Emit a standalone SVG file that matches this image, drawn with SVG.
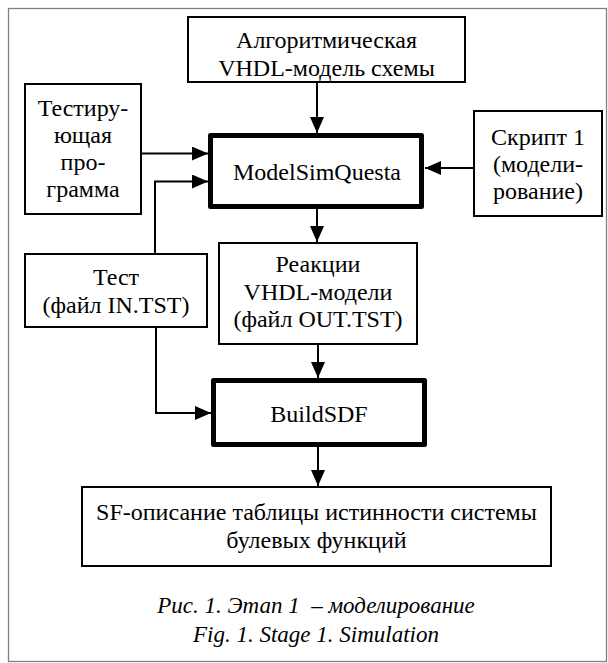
<svg xmlns="http://www.w3.org/2000/svg" width="608" height="663" viewBox="0 0 608 663">
<style>
.box{fill:#fff;stroke:#000;stroke-width:2}
.thick{fill:#fff;stroke:#000;stroke-width:5;stroke-linejoin:round}
text{font-family:'Liberation Serif','Times New Roman',serif;fill:#000;text-anchor:middle}
.t{font-size:24px}
.cap{font-size:23px;font-style:italic;white-space:pre}
.ln{fill:none;stroke:#000;stroke-width:2}
</style>
<defs>
<marker id="ah" viewBox="0 0 16 14" refX="16" refY="7" markerWidth="16" markerHeight="14" markerUnits="userSpaceOnUse" orient="auto">
<path d="M0,0 L16,7 L0,14 Z" fill="#000"/>
</marker>
</defs>
<rect x="8.5" y="8.5" width="598" height="653" fill="#fff" stroke="#808080" stroke-width="1.3"/>
<g id="connectors">
<path class="ln" d="M317,83 V133" marker-end="url(#ah)"/>
<path class="ln" d="M142,153.5 H208" marker-end="url(#ah)"/>
<path class="ln" d="M155,253 V181.5 H208" marker-end="url(#ah)"/>
<path class="ln" d="M473,168 H425" marker-end="url(#ah)"/>
<path class="ln" d="M317,209 V242" marker-end="url(#ah)"/>
<path class="ln" d="M318,345 V378" marker-end="url(#ah)"/>
<path class="ln" d="M156,328 V413 H211" marker-end="url(#ah)"/>
<path class="ln" d="M318,447 V486" marker-end="url(#ah)"/>
</g>
<g id="vhdl-model">
<rect class="box" x="188" y="17" width="277" height="65"/>
<text class="t" x="326.5" y="48">Алгоритмическая</text>
<text class="t" x="326.5" y="76">VHDL-модель схемы</text>
</g>
<g id="test-program">
<rect class="box" x="25" y="84" width="116" height="130"/>
<text class="t" x="83" y="116">Тестиру-</text>
<text class="t" x="83" y="143">ющая</text>
<text class="t" x="83" y="170">про-</text>
<text class="t" x="83" y="197">грамма</text>
</g>
<g id="modelsim">
<rect class="thick" x="210.5" y="135.5" width="211" height="71"/>
<text class="t" x="317" y="180">ModelSimQuesta</text>
</g>
<g id="script1">
<rect class="box" x="474" y="111" width="128" height="105"/>
<text class="t" x="538" y="145">Скрипт 1</text>
<text class="t" x="538" y="172">(модели-</text>
<text class="t" x="538" y="199">рование)</text>
</g>
<g id="test-file">
<rect class="box" x="25" y="254" width="182" height="73"/>
<text class="t" x="116" y="285">Тест</text>
<text class="t" x="116" y="313">(файл IN.TST)</text>
</g>
<g id="reactions">
<rect class="box" x="219" y="243" width="198" height="101"/>
<text class="t" x="318" y="272">Реакции</text>
<text class="t" x="318" y="300">VHDL-модели</text>
<text class="t" x="318" y="327">(файл OUT.TST)</text>
</g>
<g id="buildsdf">
<rect class="thick" x="213.5" y="380.5" width="211" height="64"/>
<text class="t" x="319" y="422">BuildSDF</text>
</g>
<g id="sf-description">
<rect class="box" x="82" y="487" width="469" height="79"/>
<text class="t" x="316.5" y="520">SF-описание таблицы истинности системы</text>
<text class="t" x="316.5" y="548">булевых функций</text>
</g>
<g id="caption">
<text class="cap" x="316" y="613">Рис. 1. Этап 1  – моделирование</text>
<text class="cap" x="316" y="642">Fig. 1. Stage 1. Simulation</text>
</g>
</svg>
